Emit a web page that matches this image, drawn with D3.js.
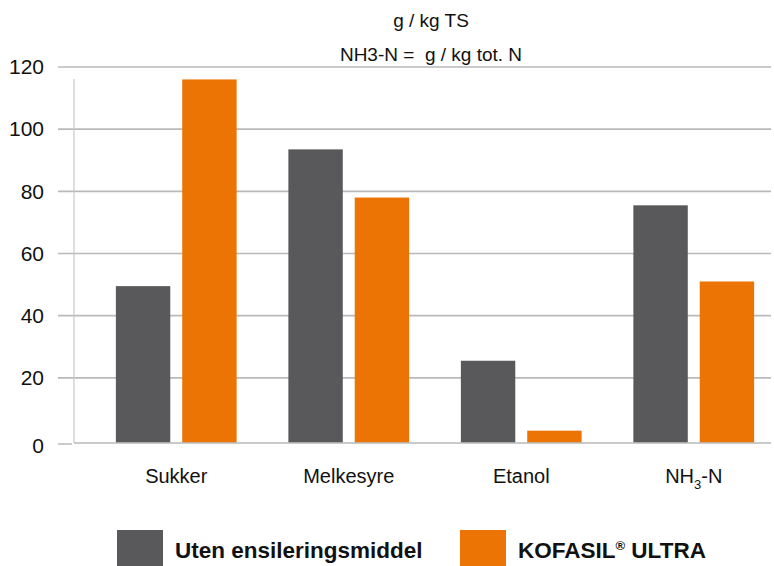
<!DOCTYPE html>
<html>
<head>
<meta charset="utf-8">
<script src="https://cdn.jsdelivr.net/npm/d3@7"></script>
<style>
  body { margin: 0; background: #fff; }
  svg { display: block; font-family: "Liberation Sans", Arial, sans-serif; }
  .title { white-space: pre; }
</style>
</head>
<body>
<div id="chart"></div>
<script>
// data
const categories = ["Sukker", "Melkesyre", "Etanol", "NH3-N"];
const seriesNames = ["Uten ensileringsmiddel", "KOFASIL ULTRA"];
const utenValues = [49.5, 93.5, 25.5, 75.5];
const kofasilValues = [116, 78, 3, 51];
const yTicks = [0, 20, 40, 60, 80, 100, 120];
const titleLines = ["g / kg TS", "NH3-N =  g / kg tot. N"];

const colours = ["#59595b", "#ec7405"];

const width = 774, height = 566;
const plotLeft = 74, plotRight = 771;

const svg = d3.select("#chart").append("svg")
  .attr("width", width)
  .attr("height", height);

const y = d3.scaleLinear().domain([0, 120]).range([440, 67]);

const x0 = d3.scaleBand()
  .domain(categories)
  .range([90, 780])
  .paddingInner(0.3)
  .paddingOuter(0.15);

const x1 = d3.scaleBand()
  .domain(seriesNames)
  .range([0, x0.bandwidth()])
  .paddingInner(0.18);

const colour = d3.scaleOrdinal().domain(seriesNames).range(colours);

// title
svg.append("g").selectAll("text")
  .data(titleLines)
  .enter().append("text")
  .attr("class", "title")
  .attr("x", 431)
  .attr("y", (d, i) => 27 + i * 34)
  .attr("text-anchor", "middle")
  .attr("font-size", "19px")
  .attr("fill", "#111")
  .text(d => d);

// grid lines
svg.append("g").selectAll("line")
  .data(yTicks.filter(t => t > 0))
  .enter().append("line")
  .attr("x1", 58)
  .attr("x2", plotRight)
  .attr("y1", d => y(d))
  .attr("y2", d => y(d))
  .attr("stroke", "#b9b9b9")
  .attr("stroke-width", 1.6);

// vertical axis line
svg.append("line")
  .attr("x1", plotLeft).attr("x2", plotLeft)
  .attr("y1", 79).attr("y2", y(0) + 3)
  .attr("stroke", "#c9c9c9")
  .attr("stroke-width", 1.2);

// y axis labels
const yAxis = d3.axisLeft(y).tickValues(yTicks).tickSize(0).tickPadding(0);
const ya = svg.append("g")
  .attr("transform", "translate(44,0)")
  .call(yAxis);
ya.select(".domain").remove();
ya.selectAll("text")
  .attr("font-size", "21px")
  .attr("font-family", "Liberation Sans, Arial, sans-serif")
  .attr("fill", "#111");
ya.selectAll(".tick").filter(d => d === 0).select("text").attr("dy", "0.6em");

// zero tick stub
svg.append("line")
  .attr("x1", 58).attr("x2", 72)
  .attr("y1", y(0) + 4).attr("y2", y(0) + 4)
  .attr("stroke", "#aaa")
  .attr("stroke-width", 1.2);

// bars
const groups = svg.append("g").selectAll("g")
  .data(categories)
  .enter().append("g")
  .attr("transform", d => `translate(${x0(d)},0)`);

groups.selectAll("rect")
  .data((d, i) => [
    { key: seriesNames[0], value: utenValues[i] },
    { key: seriesNames[1], value: kofasilValues[i] }
  ])
  .enter().append("rect")
  .attr("x", d => x1(d.key))
  .attr("width", d => x1.bandwidth())
  .attr("y", d => y(d.value))
  .attr("height", d => y(0) + 3 - y(d.value))
  .attr("fill", d => colour(d.key));

// baseline
svg.append("line")
  .attr("x1", plotLeft).attr("x2", plotRight)
  .attr("y1", y(0) + 3).attr("y2", y(0) + 3)
  .attr("stroke", "#bdbdbd")
  .attr("stroke-opacity", 0.8)
  .attr("stroke-width", 2);

// x labels
const xl = svg.append("g").selectAll("text")
  .data(categories)
  .enter().append("text")
  .attr("x", d => x0(d) + x0.bandwidth() / 2)
  .attr("y", 483)
  .attr("text-anchor", "middle")
  .attr("font-size", "20px")
  .attr("fill", "#111");

xl.each(function (d) {
  const t = d3.select(this);
  if (d === "NH3-N") {
    t.append("tspan").text("NH");
    t.append("tspan").attr("font-size", "13px").attr("dy", 6).text("3");
    t.append("tspan").attr("dy", -6).text("-N");
  } else {
    t.text(d);
  }
});

// legend
const legendX = [117, 460];
const legend = svg.append("g").selectAll("g")
  .data(seriesNames)
  .enter().append("g")
  .attr("transform", (d, i) => `translate(${legendX[i]},530)`);

legend.append("rect")
  .attr("width", 46)
  .attr("height", 46)
  .attr("fill", d => colour(d));

legend.append("text")
  .attr("x", 58)
  .attr("y", 28)
  .attr("font-size", "22.5px")
  .attr("font-weight", "bold")
  .attr("fill", "#111")
  .each(function (d) {
    const t = d3.select(this);
    if (d === "KOFASIL ULTRA") {
      t.append("tspan").text("KOFASIL");
      t.append("tspan").attr("font-size", "13px").attr("dy", -8).text("®");
      t.append("tspan").attr("dy", 8).text(" ULTRA");
    } else {
      t.text(d);
    }
  });
</script>
</body>
</html>
